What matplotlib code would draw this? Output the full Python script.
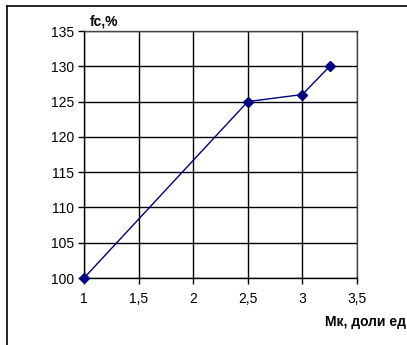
import numpy as np
import matplotlib
matplotlib.use("Agg")
import matplotlib.pyplot as plt
from matplotlib.lines import Line2D

plt.rcParams['font.family'] = ['Liberation Sans', 'DejaVu Sans']

# datuak
mk = [1, 2.5, 3, 3.25]
fc = [100, 125, 126, 130]
x_ticks = [1, 1.5, 2, 2.5, 3, 3.5]
x_etiketak = ["1", "1,5", "2", "2,5", "3", "3,5"]
y_ticks = [100, 105, 110, 115, 120, 125, 130, 135]

fig = plt.figure(figsize=(4.07, 3.45), dpi=100)
ax = fig.add_axes([84/407, 1-278/345, (357-84)/407, (278-31)/345])

ax.plot(mk, fc, color="#000080", linewidth=1, marker="D", markersize=5,
        markerfacecolor="#000080", markeredgecolor="#000080", zorder=3, clip_on=False)

ax.set_xlim(1, 3.5)
ax.set_ylim(100, 135)
ax.set_xticks(x_ticks)
ax.set_xticklabels(x_etiketak)
ax.set_yticks(y_ticks)

ax.set_axisbelow(True)
ax.grid(True, color="black", linewidth=1)
for s in ax.spines.values():
    s.set_color("#444444")
    s.set_linewidth(1)
ax.spines["left"].set_color("black")
ax.spines["bottom"].set_color("black")

ax.tick_params(axis="both", direction="out", length=4, width=1, labelsize=10, color="black")
ax.tick_params(axis="x", pad=6)
ax.tick_params(axis="y", pad=3)

fig.text(90/407, 1-22/345, "fc,%", fontsize=10, fontweight="bold", ha="left", va="center")
fig.text(406/407, 1-322/345, "Мк, доли ед", fontsize=10, fontweight="bold", ha="right", va="center")

# kanpoko markoa (goian eta ezkerrean)
fig.add_artist(Line2D([7/407, 1], [1-6/345, 1-6/345], color="black", linewidth=1.2))
fig.add_artist(Line2D([7/407, 7/407], [0, 1-6/345], color="black", linewidth=1.2))

plt.savefig("out.png", dpi=100)
